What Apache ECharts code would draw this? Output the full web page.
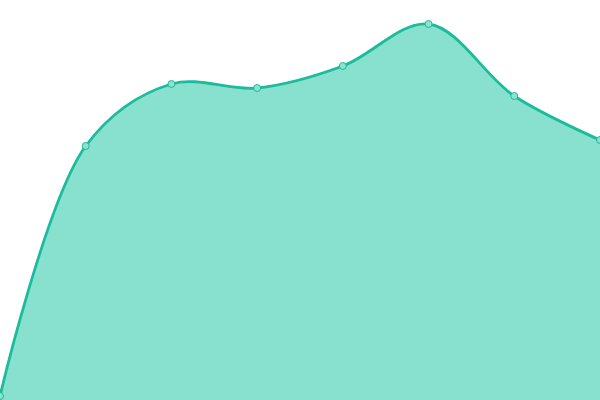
<!DOCTYPE html>
<html><head><meta charset="utf-8">
<script src="https://cdn.jsdelivr.net/npm/echarts@6/dist/echarts.min.js"></script>
<style>html,body{margin:0;padding:0;background:#fff}#c{width:600px;height:400px}</style>
</head><body><div id="c"></div>
<script>
const categories = ['1','2','3','4','5','6','7','8'];
const values = [4, 254, 316, 312, 334, 376, 304, 260];

// centripetal Catmull-Rom (alpha 0.5) through pixel points
function catmullPath(P) {
  const alpha = 0.5, eps = 1e-12;
  const d = (p, q) => Math.hypot(p[0] - q[0], p[1] - q[1]);
  let s = 'M' + P[0][0] + ',' + P[0][1];
  for (let i = 0; i < P.length - 1; i++) {
    const p0 = P[i - 1], p1 = P[i], p2 = P[i + 1], p3 = P[i + 2];
    const l01 = p0 ? d(p0, p1) : 0, l12 = d(p1, p2), l23 = p3 ? d(p2, p3) : 0;
    const l01a = Math.pow(l01, alpha), l01_2a = Math.pow(l01, 2 * alpha);
    const l12a = Math.pow(l12, alpha), l12_2a = Math.pow(l12, 2 * alpha);
    const l23a = Math.pow(l23, alpha), l23_2a = Math.pow(l23, 2 * alpha);
    let c1 = p1.slice(), c2 = p2.slice();
    if (l01a > eps) {
      const a = 2 * l01_2a + 3 * l01a * l12a + l12_2a, n = 3 * l01a * (l01a + l12a);
      c1 = [0, 1].map(k => (p1[k] * a - p0[k] * l12_2a + p2[k] * l01_2a) / n);
    }
    if (l23a > eps) {
      const b = 2 * l23_2a + 3 * l23a * l12a + l12_2a, m = 3 * l23a * (l23a + l12a);
      c2 = [0, 1].map(k => (p2[k] * b + p1[k] * l23_2a - p3[k] * l12_2a) / m);
    }
    s += 'C' + c1[0] + ',' + c1[1] + ' ' + c2[0] + ',' + c2[1] + ' ' + p2[0] + ',' + p2[1];
  }
  return s;
}

const chart = echarts.init(document.getElementById('c'));
chart.setOption({
  animation: false,
  grid: {left: 0, right: 0, top: 0, bottom: 0},
  xAxis: {type: 'category', data: categories, boundaryGap: false, show: false},
  yAxis: {type: 'value', min: 0, max: 400, show: false},
  series: [{
    type: 'custom',
    data: values.map((v, i) => [i, v]),
    renderItem: function (params, api) {
      if (params.dataIndex !== 0) return;
      const P = values.map((v, i) => api.coord([i, v]));
      const line = catmullPath(P);
      const b0 = api.coord([0, 0]), b1 = api.coord([values.length - 1, 0]);
      const area = line + 'L' + b1[0] + ',' + b1[1] + 'L' + b0[0] + ',' + b0[1] + 'Z';
      return {
        type: 'group',
        children: [
          {type: 'path', shape: {pathData: area}, style: {fill: '#88e0ce', stroke: null}},
          {type: 'path', shape: {pathData: line}, style: {fill: null, stroke: '#1abc9c', lineWidth: 2.8}}
        ]
      };
    }
  }, {
    type: 'line',
    data: values,
    symbol: 'circle',
    symbolSize: 7,
    lineStyle: {width: 0, opacity: 0},
    itemStyle: {color: '#8ce2d0', borderColor: '#1abc9c', borderWidth: 1}
  }]
});
</script></body></html>
